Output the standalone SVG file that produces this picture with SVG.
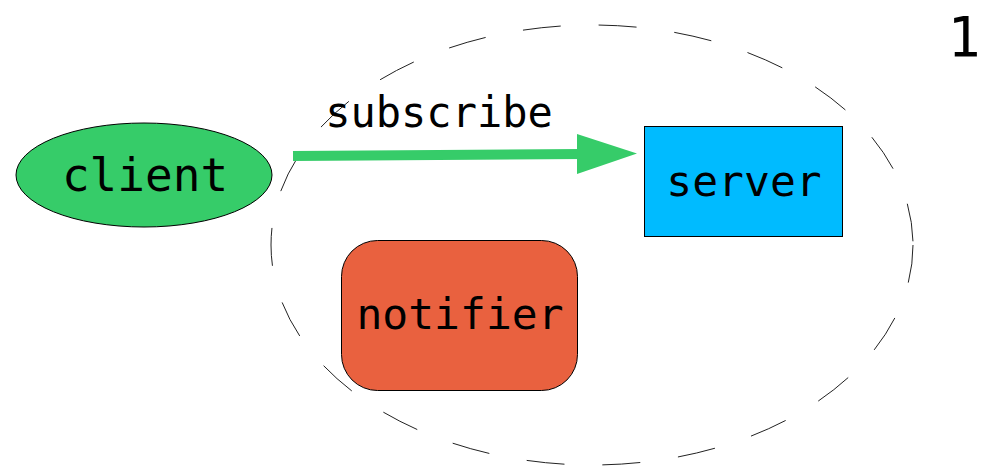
<svg xmlns="http://www.w3.org/2000/svg" width="990" height="471" viewBox="0 0 990 471">
<style>
.lbl{font-family:"DejaVu Sans Mono","Liberation Mono",monospace;fill:#000;text-anchor:middle}
.node{stroke:#000;stroke-width:1}
</style>
<rect width="990" height="471" fill="#fff"/>
<g id="boundary">
<ellipse cx="592" cy="245" rx="321" ry="220" fill="none" stroke="#222" stroke-width="1" stroke-dasharray="38 38"/>
</g>
<g id="client">
<ellipse class="node" cx="144" cy="175" rx="128" ry="52" fill="#36cc69"/>
<text class="lbl" x="145" y="191" font-size="46">client</text>
</g>
<g id="server">
<rect class="node" x="644.5" y="126.5" width="198" height="110" fill="#00bbff"/>
<text class="lbl" x="744" y="196" font-size="43">server</text>
</g>
<g id="notifier">
<rect class="node" x="341.5" y="240.5" width="236" height="150" rx="36" ry="36" fill="#e9613f"/>
<text class="lbl" x="460" y="329" font-size="43">notifier</text>
</g>
<g id="connectors">
<line x1="293" y1="156" x2="582" y2="154" stroke="#36cc69" stroke-width="10"/>
<polygon points="577,134 637,153.5 577,174" fill="#36cc69"/>
<text class="lbl" x="439" y="127" font-size="42">subscribe</text>
</g>
<text class="lbl" x="964" y="56" font-size="55">1</text>
</svg>
